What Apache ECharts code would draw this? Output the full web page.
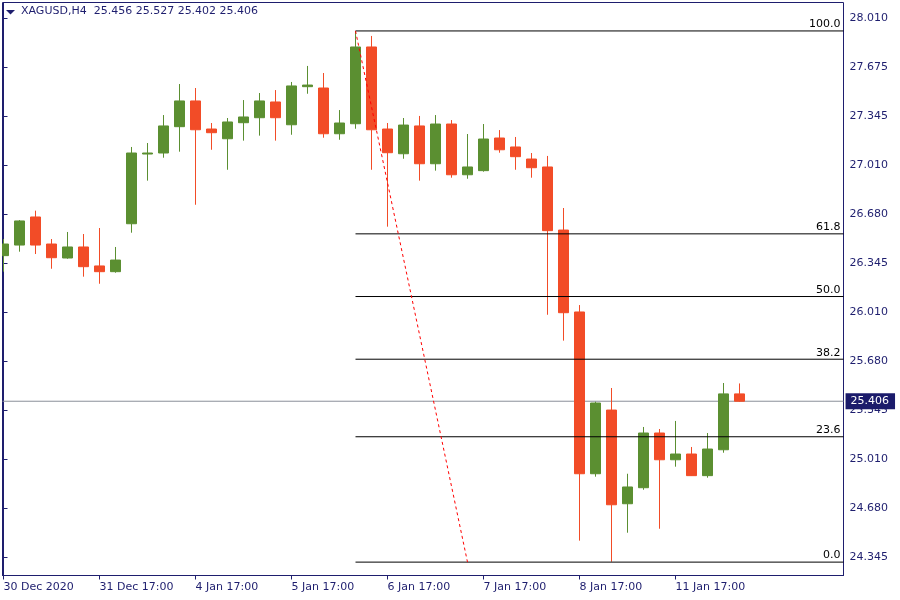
<!DOCTYPE html>
<html>
<head>
<meta charset="utf-8">
<script src="https://cdn.jsdelivr.net/npm/echarts@6/dist/echarts.min.js"></script>
<style>
html,body{margin:0;padding:0;background:#fff;}
#c{width:900px;height:600px;}
</style>
</head>
<body>
<div id="c"></div>
<script>
const symbolName = 'XAGUSD';
const timeframe = 'H4';

const categories = [
  '30 Dec 17:00','30 Dec 21:00','31 Dec 01:00','31 Dec 05:00','31 Dec 09:00','31 Dec 13:00',
  '31 Dec 17:00','31 Dec 21:00','4 Jan 01:00','4 Jan 05:00','4 Jan 09:00','4 Jan 13:00',
  '4 Jan 17:00','4 Jan 21:00','5 Jan 01:00','5 Jan 05:00','5 Jan 09:00','5 Jan 13:00',
  '5 Jan 17:00','5 Jan 21:00','6 Jan 01:00','6 Jan 05:00','6 Jan 09:00','6 Jan 13:00',
  '6 Jan 17:00','6 Jan 21:00','7 Jan 01:00','7 Jan 05:00','7 Jan 09:00','7 Jan 13:00',
  '7 Jan 17:00','7 Jan 21:00','8 Jan 01:00','8 Jan 05:00','8 Jan 09:00','8 Jan 13:00',
  '8 Jan 17:00','8 Jan 21:00','11 Jan 01:00','11 Jan 05:00','11 Jan 09:00','11 Jan 13:00',
  '11 Jan 17:00','11 Jan 21:00','12 Jan 01:00','12 Jan 05:00','12 Jan 09:00'
];
const emptySlots = 6; // free space right of the last bar

const opens  = [26.396,26.468,26.659,26.475,26.380,26.455,26.326,26.287,26.613,27.087,
                27.094,27.273,27.448,27.257,27.191,27.300,27.334,27.441,27.286,27.545,
                27.536,27.225,27.293,27.815,27.257,27.089,27.278,27.021,27.291,26.946,
                26.974,27.196,27.135,27.053,26.999,26.570,26.013,24.913,25.346,24.709,
                24.818,25.190,25.008,25.047,24.900,25.076,25.456];
const highs  = [26.509,26.638,26.702,26.509,26.557,26.543,26.584,26.455,27.135,27.162,
                27.352,27.563,27.536,27.298,27.332,27.454,27.502,27.522,27.577,27.686,
                27.638,27.386,27.924,27.890,27.298,27.332,27.346,27.352,27.318,27.223,
                27.291,27.250,27.203,27.094,27.074,26.720,26.060,25.403,25.496,24.913,
                25.231,25.217,25.272,25.095,25.190,25.530,25.527];
const lows   = [26.287,26.423,26.407,26.307,26.375,26.253,26.205,26.280,26.552,26.906,
                27.062,27.103,26.742,27.116,26.980,27.178,27.212,27.178,27.218,27.497,
                27.198,27.184,27.259,26.980,26.593,27.055,26.906,26.974,26.926,26.919,
                26.967,27.096,26.980,26.926,25.994,25.818,24.458,24.893,24.315,24.512,
                24.804,24.539,24.961,24.898,24.886,25.056,25.402];
const closes = [26.475,26.632,26.468,26.382,26.455,26.321,26.287,26.366,27.094,27.094,
                27.278,27.448,27.252,27.232,27.305,27.339,27.448,27.334,27.550,27.556,
                27.225,27.298,27.815,27.252,27.096,27.284,27.021,27.291,26.946,26.999,
                27.189,27.116,27.069,26.994,26.566,26.008,24.913,25.394,24.702,24.823,
                25.190,25.008,25.047,24.900,25.081,25.456,25.406];

const priceTicks = [28.010,27.675,27.345,27.010,26.680,26.345,26.010,25.680,25.345,25.010,24.680,24.345];
const timeTickIndex = [0,6,12,18,24,30,36,42];
const timeTickLabels = ['30 Dec 2020','31 Dec 17:00','4 Jan 17:00','5 Jan 17:00','6 Jan 17:00','7 Jan 17:00','8 Jan 17:00','11 Jan 17:00'];

// Fibonacci retracement anchors: [bar index, price]
const fibStart = [22, 27.924];
const fibEnd = [29, 24.312];
const fibLevels = [0.0, 23.6, 38.2, 50.0, 61.8, 100.0];

const currentPrice = 25.406;

const NAVY = '#1e1e6e';
const UP = '#5b8f31';
const DOWN = '#f24c27';

const candleData = opens.map((o, i) => ({ name: categories[i], value: [i, o, closes[i], lows[i], highs[i]] }));
const last = opens.length - 1;
const headerText = symbolName + ',' + timeframe + '  ' +
  [opens[last], highs[last], lows[last], closes[last]].map(v => v.toFixed(3)).join(' ');

const XMIN = -0.0625;
const XMAX = categories.length + emptySlots - 0.5;
const fibHigh = fibStart[1], fibLow = fibEnd[1];

const fibSeries = fibLevels.map(lv => {
  const price = fibLow + (fibHigh - fibLow) * lv / 100;
  return {
    type: 'line',
    z: 4,
    symbol: 'circle',
    symbolSize: 0.1,
    showSymbol: true,
    itemStyle: { color: 'rgba(0,0,0,0)' },
    lineStyle: { color: '#000', width: 1 },
    silent: true,
    data: [
      [fibStart[0], price],
      { value: [XMAX, price],
        label: { show: true, position: 'top', distance: 1, align: 'right', offset: [-3, 0],
                 formatter: lv.toFixed(1), color: '#000', fontSize: 11, fontFamily: 'DejaVu Sans' } }
    ]
  };
});

const chart = echarts.init(document.getElementById('c'), null, { renderer: 'canvas' });
chart.setOption({
  animation: false,
  backgroundColor: '#fff',
  title: {
    text: headerText,
    left: 21, top: 6, padding: 0,
    textStyle: { color: NAVY, fontSize: 11, fontWeight: 'normal', fontFamily: 'DejaVu Sans' }
  },
  grid: {
    left: 2.5, right: 56.5, top: 2.5, bottom: 24.5,
    show: true, borderColor: NAVY, borderWidth: 1, backgroundColor: 'transparent'
  },
  xAxis: {
    type: 'value',
    min: XMIN, max: XMAX,
    axisLine: { show: true, lineStyle: { color: NAVY, width: 1 } },
    axisTick: { show: true, length: 4, lineStyle: { color: NAVY }, customValues: timeTickIndex },
    axisLabel: {
      show: true, align: 'left', margin: 6, color: NAVY, fontSize: 11, fontFamily: 'DejaVu Sans',
      customValues: timeTickIndex,
      formatter: (v) => { const k = timeTickIndex.indexOf(Math.round(v)); return k >= 0 ? timeTickLabels[k] : ''; }
    },
    splitLine: { show: false }
  },
  yAxis: {
    type: 'value',
    position: 'right',
    min: 24.221, max: 28.1174,
    scale: true,
    axisLine: { show: true, lineStyle: { color: NAVY, width: 1 } },
    axisTick: { show: true, length: 4, lineStyle: { color: NAVY }, customValues: priceTicks },
    axisLabel: { show: true, margin: 6, color: NAVY, fontSize: 11, fontFamily: 'DejaVu Sans',
                 customValues: priceTicks, formatter: v => v.toFixed(3) },
    splitLine: { show: false }
  },
  series: [
    {
      type: 'line',
      z: 1,
      symbol: 'circle', symbolSize: 0.1, showSymbol: true,
      itemStyle: { color: 'rgba(0,0,0,0)' },
      lineStyle: { color: '#8a8f99', width: 1 },
      silent: true,
      data: [
        [XMIN, currentPrice],
        { value: [XMAX, currentPrice],
          label: { show: true, position: 'right', distance: 2, formatter: currentPrice.toFixed(3),
                   color: '#fff', backgroundColor: '#1b1b6b', padding: [3, 6, 2, 5],
                   fontSize: 11, fontFamily: 'DejaVu Sans' } }
      ]
    },
    {
      type: 'candlestick',
      z: 2,
      barWidth: 10,
      clip: true,
      encode: { x: 0, y: [1, 2, 3, 4] },
      data: candleData,
      itemStyle: { color: UP, color0: DOWN, borderColor: UP, borderColor0: DOWN, borderWidth: 1 }
    },
    ...fibSeries,
    {
      type: 'line',
      z: 5,
      symbol: 'none',
      lineStyle: { color: '#ff0000', width: 1, type: [3, 3] },
      silent: true,
      data: [fibStart, fibEnd]
    }
  ],
  graphic: [
    { type: 'rect', shape: { x: 0, y: 0, width: 2, height: 600 }, style: { fill: '#fff' }, z: 100 },
    { type: 'polygon', shape: { points: [[6, 10], [15, 10], [10.5, 14.5]] }, style: { fill: NAVY }, z: 101 }
  ]
});
</script>
</body>
</html>
